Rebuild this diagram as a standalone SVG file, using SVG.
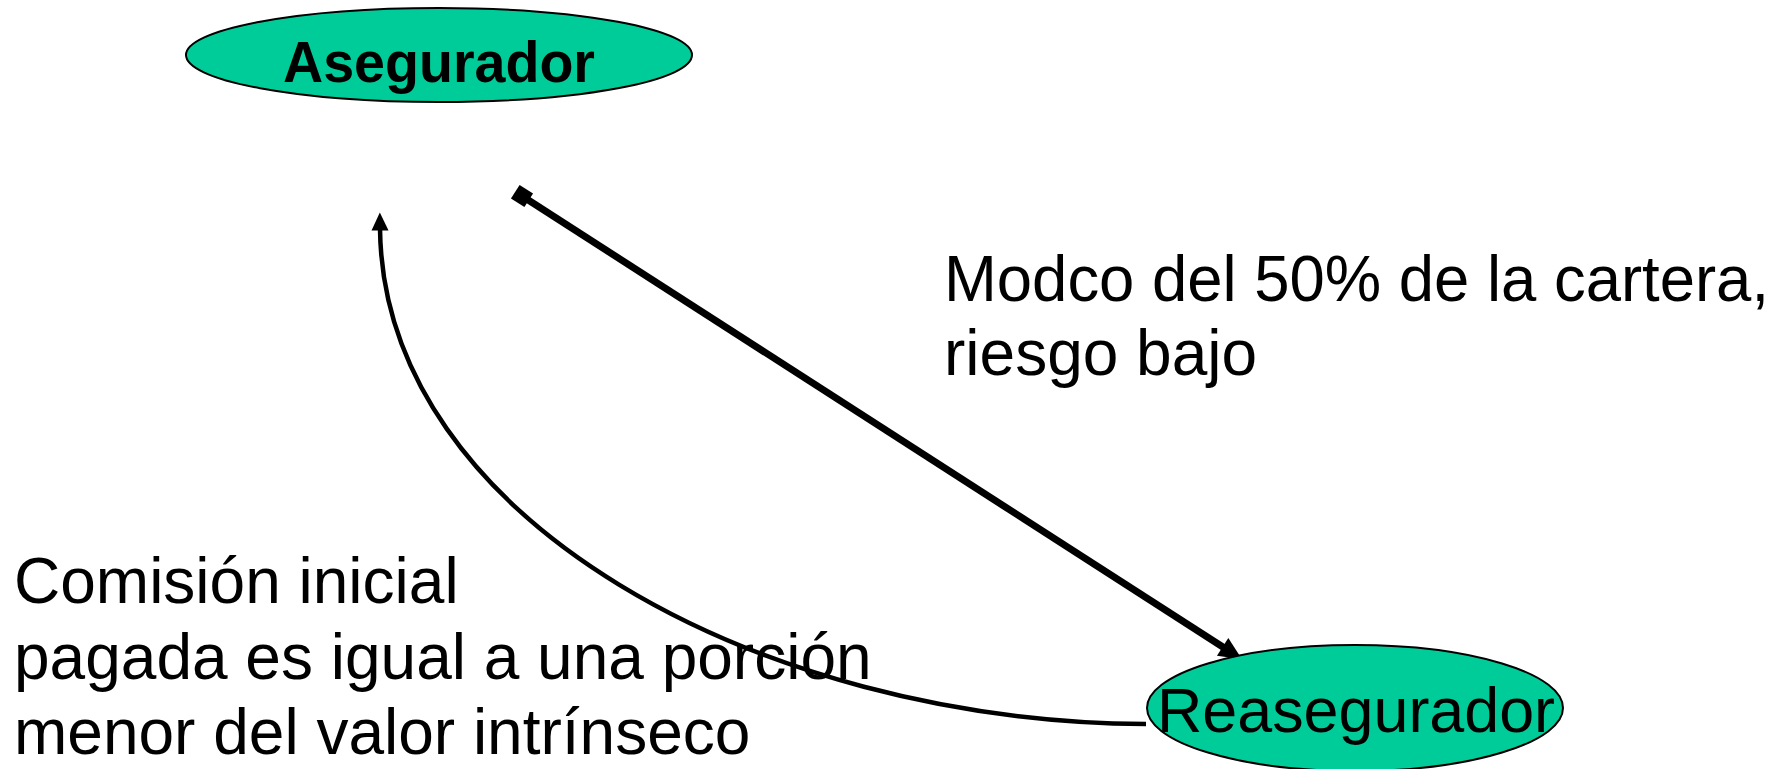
<svg xmlns="http://www.w3.org/2000/svg" width="1784" height="769" viewBox="0 0 1784 769">
<style>
.node{fill:#00CC99;stroke:#000;stroke-width:2}
.lbl{font-family:"Liberation Sans",Arial,sans-serif;fill:#000}
.conn{fill:none;stroke:#000}
</style>
<defs>
<marker id="tri" markerUnits="userSpaceOnUse" markerWidth="26" markerHeight="24" refX="4" refY="10.5" orient="auto" overflow="visible"><path d="M0,0 L23,10.5 L0,21 z" fill="#000"/></marker>
<marker id="sq" markerUnits="userSpaceOnUse" markerWidth="18" markerHeight="18" refX="0" refY="0" orient="auto" overflow="visible"><rect x="-8" y="-8" width="16" height="16" fill="#000"/></marker>
<marker id="tri2" markerUnits="userSpaceOnUse" markerWidth="20" markerHeight="18" refX="2" refY="8.5" orient="auto" overflow="visible"><path d="M0,0 L18,8.5 L0,17 z" fill="#000"/></marker>
</defs>
<rect width="1784" height="769" fill="#fff"/>
<g id="connectors">
<path class="conn" d="M522,196 L1226,649" stroke-width="7" marker-start="url(#sq)" marker-end="url(#tri)"/>
<path class="conn" d="M1146,724 C760,722 383,520 380,228.5" stroke-width="4.5" marker-end="url(#tri2)"/>
</g>
<g id="asegurador">
<ellipse class="node" cx="439" cy="55" rx="253" ry="47"/>
<text class="lbl" x="439" y="82" font-size="57" font-weight="bold" text-anchor="middle" textLength="312" lengthAdjust="spacingAndGlyphs">Asegurador</text>
</g>
<g id="reasegurador">
<ellipse class="node" cx="1355" cy="708" rx="208" ry="63"/>
<text class="lbl" x="1157" y="732" font-size="63" textLength="398" lengthAdjust="spacingAndGlyphs">Reasegurador</text>
</g>
<g id="label-modco">
<text class="lbl" x="944" y="301" font-size="64" textLength="825" lengthAdjust="spacingAndGlyphs">Modco del 50% de la cartera,</text>
<text class="lbl" x="944" y="375" font-size="64">riesgo bajo</text>
</g>
<g id="label-comision">
<text class="lbl" x="14" y="603" font-size="64">Comisión inicial</text>
<text class="lbl" x="14" y="679" font-size="64">pagada es igual a una porción</text>
<text class="lbl" x="14" y="754" font-size="64">menor del valor intrínseco</text>
</g>
</svg>
